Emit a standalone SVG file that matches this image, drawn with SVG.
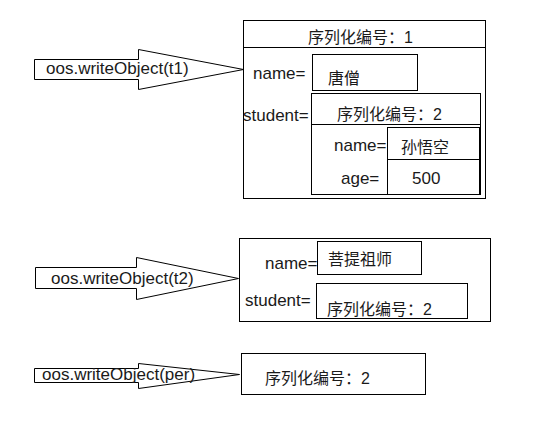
<svg xmlns="http://www.w3.org/2000/svg" width="555" height="432" viewBox="0 0 555 432">
<style>
.ln{fill:#fff;stroke:#000;stroke-width:1}
.nf{fill:none;stroke:#000;stroke-width:1}
text{font-family:"Liberation Sans","Noto Sans CJK SC",sans-serif;font-size:17px;fill:#1a1a1a}
.cj{font-size:16px}
</style>
<rect width="555" height="432" fill="#fff"/>
<g id="connectors">
<polygon id="arrow1" class="ln" points="34.5,59.5 138.5,59.5 138.5,49.5 243.5,69.5 138.5,89.5 138.5,79.5 34.5,79.5"/>
<polygon id="arrow2" class="ln" points="35.5,267.5 136.5,267.5 136.5,257.5 238.5,278.5 136.5,299.5 136.5,288.5 35.5,288.5"/>
<polygon id="arrow3" class="ln" points="34.5,368.5 138.5,368.5 138.5,363.5 239.5,374.5 138.5,388.5 138.5,382.5 34.5,382.5"/>
<text x="46" y="74">oos.writeObject(t1)</text>
<text x="51" y="284">oos.writeObject(t2)</text>
<text x="42" y="380">oos.writeObject(per)</text>
</g>
<g id="obj1">
<rect class="ln" x="243.5" y="20.5" width="242" height="178"/>
<line class="nf" x1="243.5" y1="47.5" x2="485.5" y2="47.5"/>
<text class="cj" x="308" y="43">序列化编号：1</text>
<text x="253" y="79">name=</text>
<rect class="nf" x="312.5" y="54.5" width="105" height="36"/>
<text class="cj" x="328" y="84">唐僧</text>
<text x="243" y="121">student=</text>
<g id="obj1-student">
<rect class="nf" x="311.5" y="93.5" width="169" height="101"/>
<line class="nf" x1="311.5" y1="124.5" x2="480.5" y2="124.5"/>
<text class="cj" x="337" y="120">序列化编号：2</text>
<text x="334" y="151">name=</text>
<text x="341" y="184">age=</text>
<rect class="nf" x="387.5" y="127.5" width="92" height="67"/>
<line class="nf" x1="387.5" y1="159.5" x2="479.5" y2="159.5"/>
<text class="cj" x="401" y="153">孙悟空</text>
<text x="412" y="184">500</text>
</g>
</g>
<g id="obj2">
<rect class="ln" x="239.5" y="238.5" width="251" height="83"/>
<text x="265" y="269">name=</text>
<rect class="nf" x="317.5" y="241.5" width="104" height="33"/>
<text class="cj" x="328" y="265">菩提祖师</text>
<text x="245" y="306">student=</text>
<rect class="nf" x="316.5" y="283.5" width="151" height="35"/>
<text class="cj" x="327" y="315">序列化编号：2</text>
</g>
<g id="obj3">
<rect class="ln" x="241.5" y="353.5" width="184" height="41"/>
<text class="cj" x="265" y="384">序列化编号：2</text>
</g>
</svg>
